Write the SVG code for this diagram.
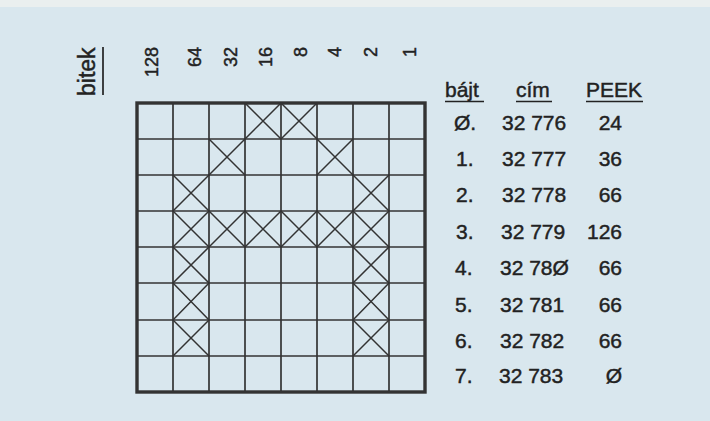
<svg xmlns="http://www.w3.org/2000/svg" width="710" height="421" viewBox="0 0 710 421">
<style>
.t{font-family:"Liberation Sans",Arial,sans-serif;fill:#222;stroke:#222;stroke-width:0.45}
.g{stroke:#333;stroke-width:1.7;fill:none}
.x{stroke:#333;stroke-width:1.5;fill:none}
.u{stroke:#222;stroke-width:1.7}
</style>
<rect width="710" height="421" fill="#d9e7ee"/>
<rect width="710" height="7" fill="#eaefef"/>
<g id="headers">
<text class="t" font-size="23" transform="translate(95,96) rotate(-90)">bitek</text>
<line class="u" x1="103" y1="47" x2="103" y2="95"/>
<g font-size="18" text-anchor="end">
<text class="t" transform="translate(158,47) rotate(-90)">128</text>
<text class="t" transform="translate(201,47) rotate(-90)">64</text>
<text class="t" transform="translate(237,47) rotate(-90)">32</text>
<text class="t" transform="translate(272,47) rotate(-90)">16</text>
<text class="t" transform="translate(307,47) rotate(-90)">8</text>
<text class="t" transform="translate(341,47) rotate(-90)">4</text>
<text class="t" transform="translate(377,47) rotate(-90)">2</text>
<text class="t" transform="translate(416,47) rotate(-90)">1</text>
</g>
</g>
<g id="grid">
<g class="g">
<line x1="173" y1="103" x2="173" y2="392"/>
<line x1="209" y1="103" x2="209" y2="392"/>
<line x1="245" y1="103" x2="245" y2="392"/>
<line x1="281" y1="103" x2="281" y2="392"/>
<line x1="317" y1="103" x2="317" y2="392"/>
<line x1="353" y1="103" x2="353" y2="392"/>
<line x1="389" y1="103" x2="389" y2="392"/>
<line x1="137" y1="139" x2="425" y2="139"/>
<line x1="137" y1="175" x2="425" y2="175"/>
<line x1="137" y1="211" x2="425" y2="211"/>
<line x1="137" y1="247" x2="425" y2="247"/>
<line x1="137" y1="283" x2="425" y2="283"/>
<line x1="137" y1="320" x2="425" y2="320"/>
<line x1="137" y1="356" x2="425" y2="356"/>
</g>
<rect x="137" y="103" width="288" height="289" fill="none" stroke="#333" stroke-width="3.4"/>
<path class="x" d="
M245 103L281 139M281 103L245 139 M281 103L317 139M317 103L281 139
M209 139L245 175M245 139L209 175 M317 139L353 175M353 139L317 175
M173 175L209 211M209 175L173 211 M353 175L389 211M389 175L353 211
M173 211L209 247M209 211L173 247 M209 211L245 247M245 211L209 247 M245 211L281 247M281 211L245 247
M281 211L317 247M317 211L281 247 M317 211L353 247M353 211L317 247 M353 211L389 247M389 211L353 247
M173 247L209 283M209 247L173 283 M353 247L389 283M389 247L353 283
M173 283L209 320M209 283L173 320 M353 283L389 320M389 283L353 320
M173 320L209 356M209 320L173 356 M353 320L389 356M389 320L353 356"/>
</g>
<g id="table" font-size="21">
<text class="t" x="445" y="97">bájt</text>
<text class="t" x="516" y="97">cím</text>
<text class="t" x="586" y="97">PEEK</text>
<line class="u" x1="445" y1="101.5" x2="484" y2="101.5"/>
<line class="u" x1="516" y1="101.5" x2="552" y2="101.5"/>
<line class="u" x1="586" y1="101.5" x2="643" y2="101.5"/>
<g>
<text class="t" x="454" y="130">Ø.</text><text class="t" x="502" y="130">32 776</text><text class="t" x="622" y="130" text-anchor="end">24</text>
<text class="t" x="456" y="166">1.</text><text class="t" x="502" y="166">32 777</text><text class="t" x="622" y="166" text-anchor="end">36</text>
<text class="t" x="456" y="202">2.</text><text class="t" x="502" y="202">32 778</text><text class="t" x="622" y="202" text-anchor="end">66</text>
<text class="t" x="456" y="239">3.</text><text class="t" x="501" y="239">32 779</text><text class="t" x="622" y="239" text-anchor="end">126</text>
<text class="t" x="455" y="275">4.</text><text class="t" x="500" y="275">32 78Ø</text><text class="t" x="622" y="275" text-anchor="end">66</text>
<text class="t" x="455" y="312">5.</text><text class="t" x="500" y="312">32 781</text><text class="t" x="622" y="312" text-anchor="end">66</text>
<text class="t" x="455" y="348">6.</text><text class="t" x="500" y="348">32 782</text><text class="t" x="622" y="348" text-anchor="end">66</text>
<text class="t" x="455" y="383">7.</text><text class="t" x="499" y="383">32 783</text><text class="t" x="622" y="383" text-anchor="end">Ø</text>
</g>
</g>
</svg>
